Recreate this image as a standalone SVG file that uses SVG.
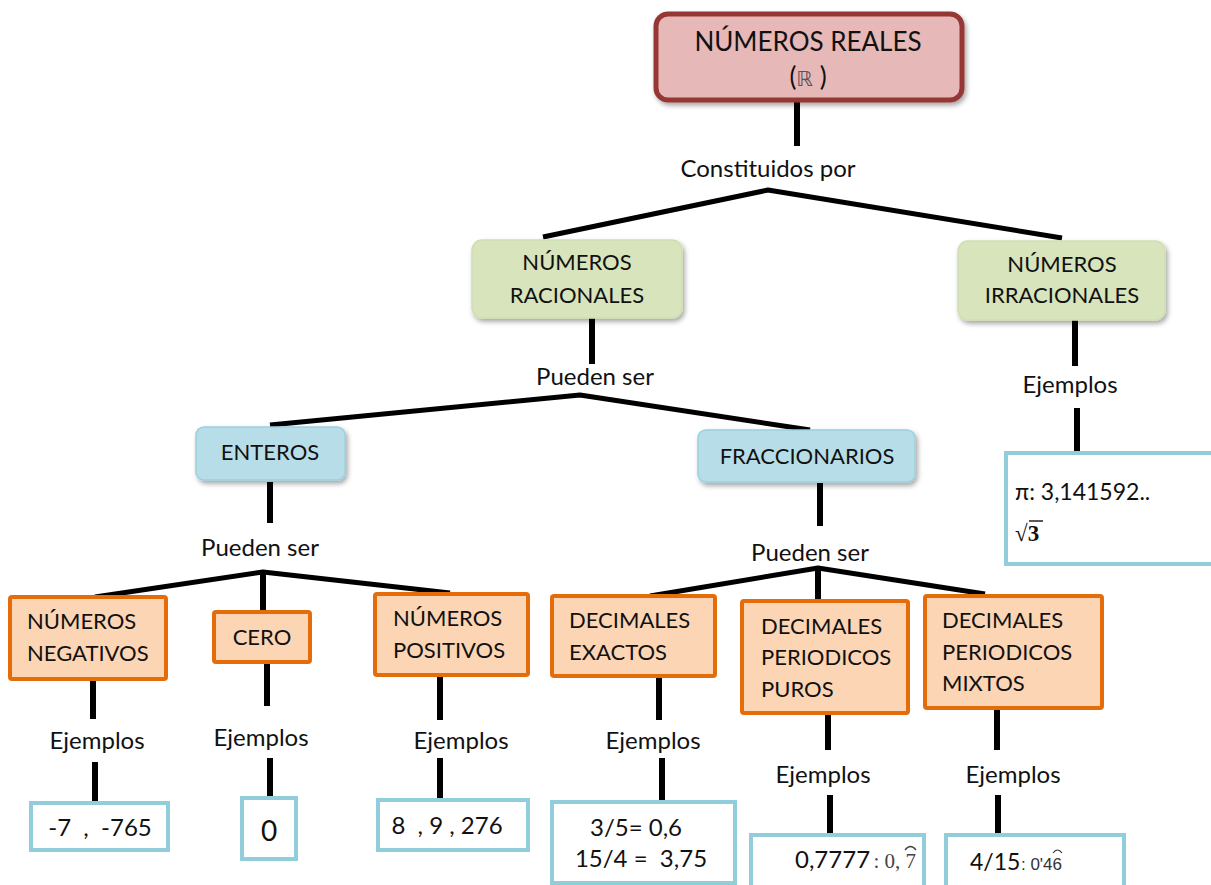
<svg xmlns="http://www.w3.org/2000/svg" width="1211" height="885" viewBox="0 0 1211 885">
<defs>
<filter id="sh" x="-10%" y="-10%" width="130%" height="140%">
<feDropShadow dx="2" dy="3" stdDeviation="2.5" flood-color="#000" flood-opacity="0.35"/>
</filter>
<style>
text{font-family:Lato,"Open Sans","Liberation Sans",sans-serif;fill:#111;font-size:22px}
.c{text-anchor:middle}
.lb{font-size:24px}
.ext{font-size:24px}
.root{fill:#e6b8b7;stroke:#953735;stroke-width:5}
.green{fill:#d7e4bc;stroke:#d0dfb2;stroke-width:1.5}
.blue{fill:#b7dee8;stroke:#9ccfdd;stroke-width:1.5}
.org{fill:#fcd5b5;stroke:#e46c0a;stroke-width:4}
.ex{fill:#fff;stroke:#92cddc;stroke-width:4}
.ln{stroke:#000;stroke-width:6;fill:none;stroke-linecap:butt}
.br{stroke:#000;stroke-width:5;fill:none;stroke-linejoin:round}
</style>
</defs>
<rect width="1211" height="885" fill="#fff"/>

<g id="connectors">
<line class="ln" x1="797" y1="101" x2="797" y2="146"/>
<polyline class="br" points="543,237 768,190 1062,238"/>
<line class="ln" x1="592" y1="318" x2="592" y2="364"/>
<polyline class="br" points="270,425 580,395 810,430"/>
<line class="ln" x1="1075" y1="320" x2="1075" y2="366"/>
<line class="ln" x1="1077" y1="408" x2="1077" y2="451"/>
<line class="ln" x1="270" y1="482" x2="270" y2="523"/>
<polyline class="br" points="95,597 263,572 450,593"/>
<line class="ln" x1="263" y1="572" x2="263" y2="612"/>
<line class="ln" x1="820" y1="483" x2="820" y2="526"/>
<polyline class="br" points="650,596 818,568 985,594"/>
<line class="ln" x1="818" y1="568" x2="818" y2="601"/>
<line class="ln" x1="93" y1="679" x2="93" y2="719"/>
<line class="ln" x1="95" y1="762" x2="95" y2="802"/>
<line class="ln" x1="267" y1="662" x2="267" y2="706"/>
<line class="ln" x1="270" y1="758" x2="270" y2="797"/>
<line class="ln" x1="440" y1="675" x2="440" y2="720"/>
<line class="ln" x1="440" y1="758" x2="440" y2="800"/>
<line class="ln" x1="659" y1="676" x2="659" y2="720"/>
<line class="ln" x1="662" y1="758" x2="662" y2="801"/>
<line class="ln" x1="828" y1="713" x2="828" y2="750"/>
<line class="ln" x1="830" y1="795" x2="830" y2="835"/>
<line class="ln" x1="997" y1="708" x2="997" y2="750"/>
<line class="ln" x1="998" y1="795" x2="998" y2="835"/>
</g>

<g id="labels">
<text class="c lb" x="768" y="177">Constituidos por</text>
<text class="c lb" x="595" y="385">Pueden ser</text>
<text class="c lb" x="1070" y="393">Ejemplos</text>
<text class="c lb" x="260" y="556">Pueden ser</text>
<text class="c lb" x="810" y="561">Pueden ser</text>
<text class="c lb" x="97" y="749">Ejemplos</text>
<text class="c lb" x="261" y="746">Ejemplos</text>
<text class="c lb" x="461" y="749">Ejemplos</text>
<text class="c lb" x="653" y="749">Ejemplos</text>
<text class="c lb" x="823" y="783">Ejemplos</text>
<text class="c lb" x="1013" y="783">Ejemplos</text>
</g>

<g id="n-reales">
<rect class="root" x="656" y="14" width="306" height="86" rx="12" filter="url(#sh)"/>
<text class="c" x="808" y="51" style="font-size:26px">NÚMEROS REALES</text>
<text class="c" x="808" y="86" style="font-size:26px">(<tspan style="font-family:'DejaVu Sans',sans-serif;font-size:21px;fill:#555">ℝ</tspan> )</text>
</g>

<g id="n-racionales">
<rect class="green" x="472" y="240" width="210" height="78" rx="10" filter="url(#sh)"/>
<text class="c" x="577" y="270">NÚMEROS</text>
<text class="c" x="577" y="303">RACIONALES</text>
</g>

<g id="n-irracionales">
<rect class="green" x="958" y="241" width="207" height="79" rx="10" filter="url(#sh)"/>
<text class="c" x="1062" y="272">NÚMEROS</text>
<text class="c" x="1062" y="303">IRRACIONALES</text>
</g>

<g id="n-ej-irr">
<rect class="ex" x="1006" y="453" width="210" height="111"/>
<text x="1015" y="500" style="font-size:23px">π: 3,141592..</text>
<text x="1015" y="541" style="font-family:'Liberation Serif',serif;font-size:23px">√<tspan font-weight="bold">3</tspan></text>
<line x1="1029" y1="521" x2="1043" y2="521" stroke="#111" stroke-width="1.4"/>
</g>

<g id="n-enteros">
<rect class="blue" x="196" y="427" width="149" height="53" rx="8" filter="url(#sh)"/>
<text class="c" x="270" y="460">ENTEROS</text>
</g>

<g id="n-fraccionarios">
<rect class="blue" x="698" y="430" width="217" height="52" rx="8" filter="url(#sh)"/>
<text class="c" x="807" y="464">FRACCIONARIOS</text>
</g>

<g id="n-negativos">
<rect class="org" x="10" y="597" width="156" height="82" rx="2"/>
<text x="27" y="629">NÚMEROS</text>
<text x="27" y="661">NEGATIVOS</text>
</g>

<g id="n-cero">
<rect class="org" x="214" y="612" width="96" height="50" rx="2"/>
<text class="c" x="262" y="645">CERO</text>
</g>

<g id="n-positivos">
<rect class="org" x="375" y="594" width="153" height="81" rx="2"/>
<text x="393" y="626">NÚMEROS</text>
<text x="393" y="658">POSITIVOS</text>
</g>

<g id="n-exactos">
<rect class="org" x="552" y="596" width="163" height="80" rx="2"/>
<text x="569" y="628">DECIMALES</text>
<text x="569" y="660">EXACTOS</text>
</g>

<g id="n-puros">
<rect class="org" x="742" y="601" width="166" height="112" rx="2"/>
<text x="761" y="634">DECIMALES</text>
<text x="761" y="665">PERIODICOS</text>
<text x="761" y="697">PUROS</text>
</g>

<g id="n-mixtos">
<rect class="org" x="925" y="596" width="177" height="112" rx="2"/>
<text x="942" y="628">DECIMALES</text>
<text x="942" y="660">PERIODICOS</text>
<text x="942" y="691">MIXTOS</text>
</g>

<g id="n-ej-neg">
<rect class="ex" x="31" y="803" width="137" height="47"/>
<text class="c ext" x="100" y="836" xml:space="preserve">-7  ,  -765</text>
</g>

<g id="n-ej-cero">
<rect class="ex" x="242" y="798" width="54" height="61"/>
<text class="c" x="269" y="841" style="font-size:28px">0</text>
</g>

<g id="n-ej-pos">
<rect class="ex" x="378" y="800" width="150" height="50"/>
<text class="c ext" x="447" y="834" xml:space="preserve">8  , 9 , 276</text>
</g>

<g id="n-ej-exactos">
<rect class="ex" x="552" y="802" width="183" height="81"/>
<text class="c ext" x="636" y="836">3/5= 0,6</text>
<text class="c ext" x="641" y="867" xml:space="preserve">15/4 =  3,75</text>
</g>

<g id="n-ej-puros">
<rect class="ex" x="751" y="835" width="173" height="55"/>
<text class="ext" x="795" y="868">0,7777</text>
<text x="916" y="868" text-anchor="end" style="font-family:'Liberation Serif',serif;font-size:21px;fill:#444">: 0, 7</text>
<path d="M905,850 Q910.5,843 916,850" fill="none" stroke="#444" stroke-width="1.3"/>
</g>

<g id="n-ej-mixtos">
<rect class="ex" x="946" y="835" width="178" height="55"/>
<text x="970" y="870" style="font-size:23px">4/15</text>
<text x="1062" y="870" text-anchor="end" style="font-family:'Liberation Sans',sans-serif;font-size:17px;fill:#333">: 0'46</text>
<path d="M1053,853 Q1057.5,847 1062,853" fill="none" stroke="#333" stroke-width="1.2"/>
</g>
</svg>
